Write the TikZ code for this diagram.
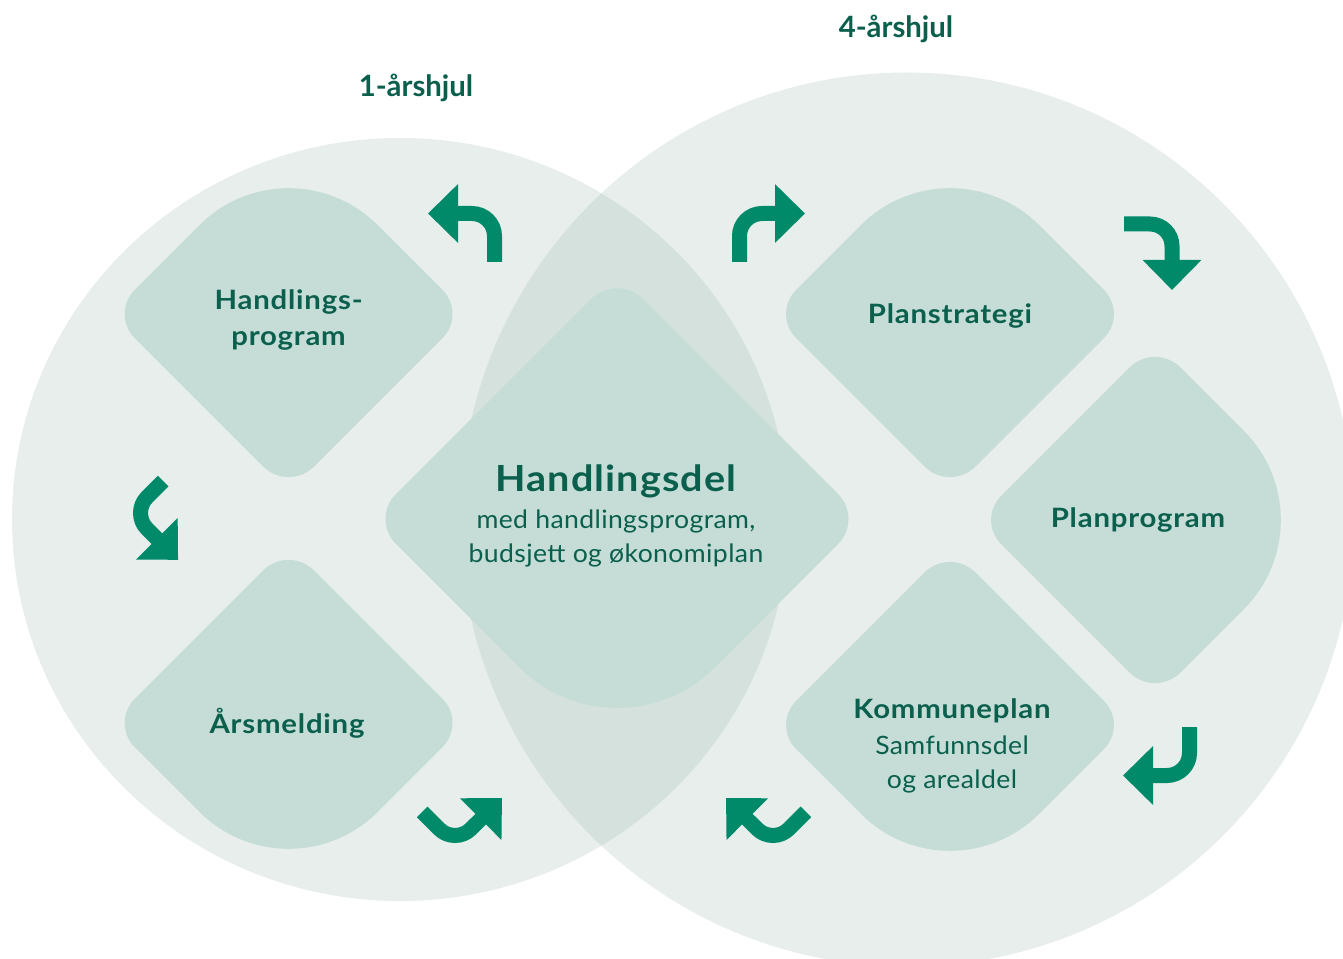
\documentclass[tikz,border=0pt]{standalone}
\usepackage{fontspec}
\setmainfont{Lato}
\newfontfamily\stepfont{Lato}[FakeStretch=1.1, LetterSpace=3]
\newfontfamily\notefont{Lato}[FakeStretch=1.05, LetterSpace=1.5]
\usetikzlibrary{arrows.meta, positioning}
\definecolor{wheelbg}{HTML}{E8EEEC}
\definecolor{overlapbg}{HTML}{D4E1DD}
\definecolor{stepfill}{HTML}{C5DDD6}
\definecolor{darkgreen}{HTML}{0A5F4D}
\definecolor{arrowgreen}{HTML}{008A6A}

% rounded diamond: centre x, centre y, half diagonal, radii top/right/bottom/left
\newcommand{\rdiamond}[7]{%
  \fill[stepfill] ({#1-0.7071*#4},{#2+#3-0.7071*#4}) arc[start angle=135, end angle=45, radius=#4]
    -- ({#1+#3-0.7071*#5},{#2+0.7071*#5}) arc[start angle=45, end angle=-45, radius=#5]
    -- ({#1+0.7071*#6},{#2-#3+0.7071*#6}) arc[start angle=-45, end angle=-135, radius=#6]
    -- ({#1-#3+0.7071*#7},{#2-0.7071*#7}) arc[start angle=-135, end angle=-225, radius=#7]
    -- cycle;}

\begin{document}
\begin{tikzpicture}[x=0.75pt, y=0.75pt,
    title/.style={text=darkgreen, font=\bfseries\fontsize{22}{26}\selectfont},
    lbl/.style={text=darkgreen, font=\stepfont\bfseries\fontsize{20}{27.5}\selectfont, align=center},
    biglbl/.style={text=darkgreen, font=\stepfont\bfseries\fontsize{27}{32}\selectfont},
    sub/.style={text=darkgreen, font=\notefont\fontsize{19}{25.5}\selectfont, align=center},
    turn/.style={draw=arrowgreen, line width=11.25pt, -{Triangle[length=22.5pt, width=42.75pt]}}]
    \useasboundingbox (0,0) rectangle (1343,958);

    % the two wheels
    \fill[wheelbg] (400,438.5) ellipse[x radius=388, y radius=381.5];
    \fill[wheelbg] (907,438.5) circle[radius=447];
    \begin{scope}
        \clip (400,438.5) ellipse[x radius=388, y radius=381.5];
        \fill[overlapbg] (907,438.5) circle[radius=447];
    \end{scope}

    % steps
    \rdiamond{288.6}{644}{178}{126}{34}{36}{34}
    \rdiamond{288.6}{235}{178}{36}{34}{126}{34}
    \rdiamond{950}{644}{178}{126}{34}{36}{34}
    \rdiamond{950}{233}{178}{36}{34}{126}{34}
    \rdiamond{1155}{438}{178}{36}{126}{36}{34}
    \rdiamond{617}{439}{246}{37}{35}{138}{35}

    % turning arrows
    \draw[turn] (494.5,696) -- (494.5,722) arc[start angle=0, end angle=90, radius=22.5] -- (428,744.5);
    \draw[turn] (739.5,696) -- (739.5,722) arc[start angle=180, end angle=90, radius=22.5] -- (805,744.5);
    \draw[turn] (1124,734) -- (1150,734) arc[start angle=90, end angle=0, radius=22] -- (1172,668);
    \draw[turn] (1189.5,231) -- (1189.5,205) arc[start angle=0, end angle=-90, radius=22.5] -- (1123,182.5);
    \draw[turn] (805.9,146.1) -- (788.9,129.1) arc[start angle=-45, end angle=-135, radius=22.5] -- (726,160);
    \draw[turn] (422.1,146.1) -- (439.1,129.1) arc[start angle=-135, end angle=-45, radius=22.5] -- (502,160);
    \draw[turn] (163.1,476.9) -- (147.1,460.9) arc[start angle=135, end angle=225, radius=22.5] -- (178.1,398.1);

    % labels
    \node[title] (oneyr) at (416,870) {1-årshjul};
    \node[title] (fouryr) at (896,929) {4-årshjul};
    \node[lbl] (hprog) at (288.6,638) {Handlings-\\program};
    \node[lbl] (pstrat) at (950,642) {Planstrategi};
    \node[lbl] (pprog) at (1138,438) {Planprogram};
    \node[lbl] (aarsm) at (287,235) {Årsmelding};
    \node[lbl] (kplan) at (952,247) {Kommuneplan};
    \node[sub] (kplansub) at (952,194) {Samfunnsdel\\og arealdel};
    \node[biglbl] (hdel) at (616,477) {Handlingsdel};
    \node[sub] (hdelsub) at (616,419.5) {med handlingsprogram,\\budsjett og økonomiplan};
\end{tikzpicture}
\end{document}
